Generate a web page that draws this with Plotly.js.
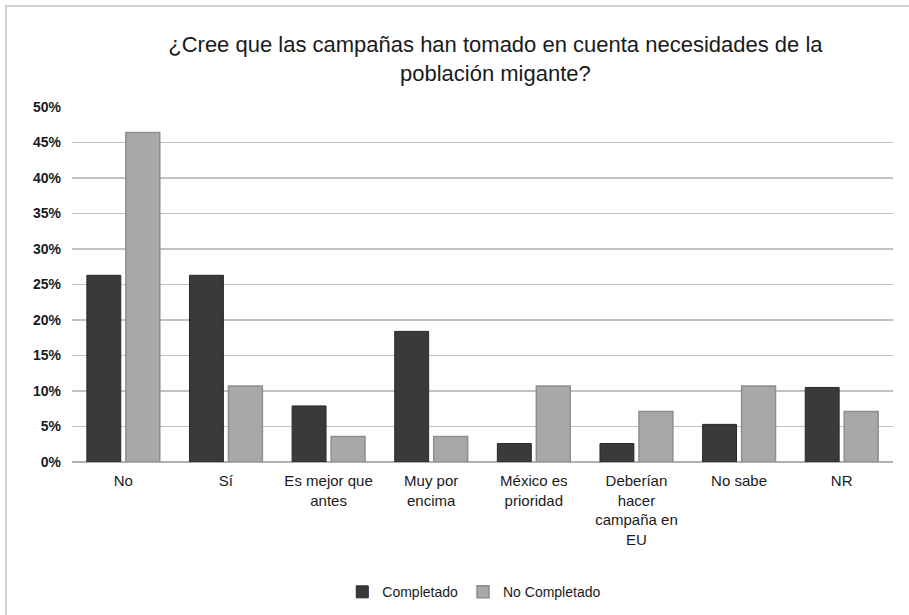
<!DOCTYPE html>
<html>
<head>
<meta charset="utf-8">
<script src="https://cdn.plot.ly/plotly-3.0.1.min.js"></script>
<style>
  html, body { margin: 0; padding: 0; background: #fff; }
  #chart { width: 909px; height: 615px; }
  #frame { position: absolute; left: 5px; top: 5px; width: 920px; height: 640px; border: 2px solid #cfcfcf; box-sizing: border-box; pointer-events: none; }
</style>
</head>
<body>
<div id="chart"></div>
<div id="frame"></div>
<script>
const categories = ["No", "Sí", "Es mejor que<br>antes", "Muy por<br>encima", "México es<br>prioridad", "Deberían<br>hacer<br>campaña en<br>EU", "No sabe", "NR"];
const completado = [26.3, 26.3, 7.9, 18.4, 2.6, 2.6, 5.3, 10.5];
const noCompletado = [46.4, 10.7, 3.6, 3.6, 10.7, 7.1, 10.7, 7.1];
const yTicks = [0, 5, 10, 15, 20, 25, 30, 35, 40, 45, 50];
const yTickText = yTicks.map(v => v + "%");

const fontFam = "'Liberation Sans', Arial, sans-serif";

const data = [
  { type: "bar", name: "Completado", x: categories, y: completado,
    marker: { color: "#3a3a3a", line: { color: "#2a2a2a", width: 1 } }, hoverinfo: "skip" },
  { type: "bar", name: "No Completado", x: categories, y: noCompletado,
    marker: { color: "#a8a8a8", line: { color: "#8e8e8e", width: 1.5 } }, hoverinfo: "skip" }
];

const layout = {
  width: 909, height: 615,
  margin: { l: 72, r: 16, t: 107, b: 153, autoexpand: false },
  paper_bgcolor: "#ffffff", plot_bgcolor: "#ffffff",
  title: { text: "¿Cree que las campañas han tomado en cuenta necesidades de la<br>población migante?",
           x: 0.545, xanchor: "center", y: 0.915, yanchor: "middle",
           font: { family: fontFam, size: 22, color: "#1a1a1a" } },
  barmode: "group", bargap: 0.24, bargroupgap: 0.13,
  showlegend: true,
  legend: { orientation: "h", x: 0.49, xanchor: "center", yref: "container", y: 0.037, yanchor: "middle",
            font: { family: fontFam, size: 14, color: "#1a1a1a" } },
  xaxis: { tickfont: { family: fontFam, size: 15, color: "#1a1a1a" }, showline: false, ticks: "",
           showgrid: false, fixedrange: true, tickangle: 0, ticklabelstandoff: 8, automargin: false },
  yaxis: { range: [0, 50], tickvals: yTicks, ticktext: yTickText, showgrid: true,
           gridcolor: "#c2c2c2", gridwidth: 1.5, zeroline: true, zerolinecolor: "#b0b0b0", zerolinewidth: 1.5,
           ticklabelstandoff: 10, automargin: false,
           tickfont: { family: fontFam, size: 14, color: "#1a1a1a", weight: "bold" }, ticks: "", showline: false, fixedrange: true }
};

Plotly.newPlot("chart", data, layout, { displayModeBar: false, staticPlot: true });
</script>
</body>
</html>
